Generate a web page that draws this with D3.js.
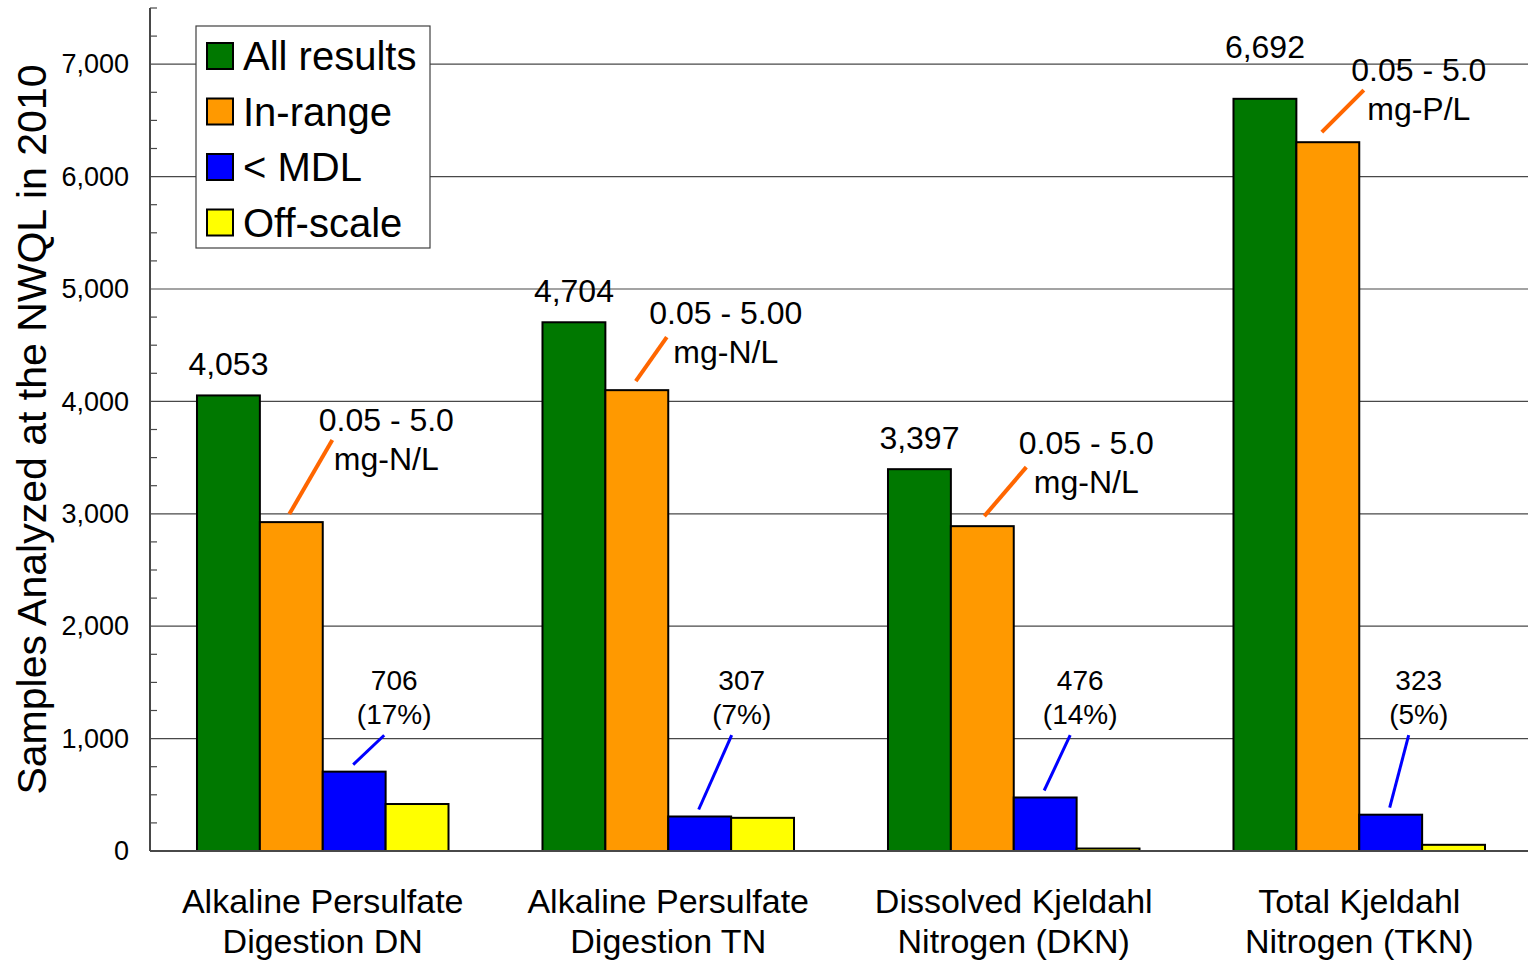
<!DOCTYPE html>
<html><head><meta charset="utf-8">
<script src="https://cdn.jsdelivr.net/npm/d3@7"></script>
<style>body{margin:0;background:#fff} svg{display:block;font-family:"Liberation Sans",Arial,Helvetica,sans-serif}</style>
</head><body><svg id="c" width="1528" height="960"></svg>
<script>
// ---- data ----
const categories = ["DN", "TN", "DKN", "TKN"];
const categoryLabels = [["Alkaline Persulfate","Digestion DN"],["Alkaline Persulfate","Digestion TN"],["Dissolved Kjeldahl","Nitrogen (DKN)"],["Total Kjeldahl","Nitrogen (TKN)"]];
const seriesNames = ["All results", "In-range", "< MDL", "Off-scale"];
const allResults = [4053, 4704, 3397, 6692];
const inRange = [2926, 4100, 2890, 6306];
const belowMDL = [706, 307, 476, 323];
const offScale = [418, 295, 22, 55];
const allLabels = ["4,053", "4,704", "3,397", "6,692"];
const mdlLabels = [["706","(17%)"],["307","(7%)"],["476","(14%)"],["323","(5%)"]];
const rangeLabels = [["0.05 - 5.0","mg-N/L"],["0.05 - 5.00","mg-N/L"],["0.05 - 5.0","mg-N/L"],["0.05 - 5.0","mg-P/L"]];
const yTicks = [0, 1000, 2000, 3000, 4000, 5000, 6000, 7000];
const yTickLabels = ["0", "1,000", "2,000", "3,000", "4,000", "5,000", "6,000", "7,000"];
const yTitle = "Samples Analyzed at the NWQL in 2010";

// ---- style / layout ----
const colors = ["#007800", "#FF9900", "#0000FF", "#FFFF00"];
const W = 1528, H = 960;
const mLeft = 150, mRight = 1532, mTop = 8, mBottom = 851;
// annotation offsets (layout only)
const allLabelDy = [-31, -31, -31, -52];
const rangeLead = [[-2,-8,41,-82],[-1,-9,30,-53],[2,-10,44,-59],[-6,-10,36,-52]];
const rangeText = [[95,-102],[89,-77],[104,-83],[91,-72]];
const mdlTextDx = [40, 42, 35, 28];

const svg = d3.select("#c");
const series = [allResults, inRange, belowMDL, offScale];

const y = d3.scaleLinear().domain([0, 7500]).range([mBottom, mTop]);
const x0 = d3.scaleBand().domain(categories).range([mLeft, mRight]).padding(0);
const step = x0.bandwidth();
const x1 = d3.scaleBand().domain(seriesNames).range([step * 0.136, step * 0.864]).padding(0);

// gridlines
svg.append("g").selectAll("line").data(yTicks.filter(d => d > 0)).join("line")
  .attr("x1", mLeft).attr("x2", W).attr("y1", d => y(d)).attr("y2", d => y(d))
  .attr("stroke", "#484848").attr("stroke-width", 1.2);

// minor ticks
const minor = d3.range(0, 7501, 250).filter(d => d % 1000 !== 0);
svg.append("g").selectAll("line").data(minor).join("line")
  .attr("x1", mLeft).attr("x2", mLeft + 7).attr("y1", d => y(d)).attr("y2", d => y(d))
  .attr("stroke", "#484848").attr("stroke-width", 1.2);

// y axis tick labels
const yAxis = d3.axisLeft(y).tickValues(yTicks).tickFormat((d, i) => yTickLabels[i]).tickSize(0).tickPadding(21);
const yg = svg.append("g").attr("transform", `translate(${mLeft},0)`).call(yAxis);
yg.select(".domain").remove();
yg.selectAll("text").attr("font-size", 27).attr("fill", "#000").attr("font-family", "Liberation Sans, Arial, sans-serif");

// axis line
svg.append("line").attr("x1", mLeft).attr("x2", mLeft).attr("y1", mTop).attr("y2", mBottom).attr("stroke", "#484848").attr("stroke-width", 2);

// bars
const groups = svg.append("g").selectAll("g").data(categories).join("g")
  .attr("transform", d => `translate(${x0(d)},0)`);
groups.selectAll("rect").data((c, ci) => seriesNames.map((s, si) => ({s, si, v: series[si][ci]}))).join("rect")
  .attr("x", d => x1(d.s)).attr("width", x1.bandwidth())
  .attr("y", d => y(d.v)).attr("height", d => mBottom - y(d.v))
  .attr("fill", d => colors[d.si]).attr("stroke", "#000").attr("stroke-width", 2);

svg.append("line").attr("x1", mLeft).attr("x2", W).attr("y1", mBottom).attr("y2", mBottom).attr("stroke", "#484848").attr("stroke-width", 2);

categories.forEach((c, i) => {
  const gx = x0(c) + x1(seriesNames[0]) + x1.bandwidth() / 2;
  svg.append("text").attr("x", gx).attr("y", y(allResults[i]) + allLabelDy[i])
    .attr("text-anchor", "middle").attr("dominant-baseline", "central").attr("font-size", 32).text(allLabels[i]);

  // in-range annotation
  const ox = x0(c) + x1(seriesNames[1]) + x1.bandwidth() / 2;
  const oy = y(inRange[i]);
  const L = rangeLead[i];
  svg.append("line").attr("x1", ox + L[0]).attr("y1", oy + L[1]).attr("x2", ox + L[2]).attr("y2", oy + L[3])
    .attr("stroke", "#FF6600").attr("stroke-width", 4);
  const T = rangeText[i];
  rangeLabels[i].forEach((t, k) => {
    svg.append("text").attr("x", ox + T[0]).attr("y", oy + T[1] + k * 39)
      .attr("text-anchor", "middle").attr("dominant-baseline", "central").attr("font-size", 32).text(t);
  });

  // < MDL annotation
  const bx = x0(c) + x1(seriesNames[2]) + x1.bandwidth() / 2;
  const by = y(belowMDL[i]);
  const tx = bx + mdlTextDx[i];
  svg.append("line").attr("x1", bx - 1).attr("y1", by - 7).attr("x2", tx - 10).attr("y2", y(1030))
    .attr("stroke", "#0000FF").attr("stroke-width", 3);
  mdlLabels[i].forEach((t, k) => {
    svg.append("text").attr("x", tx).attr("y", y(1520) + k * 34)
      .attr("text-anchor", "middle").attr("dominant-baseline", "central").attr("font-size", 28).text(t);
  });

  // category labels
  const cx = x0(c) + step / 2;
  categoryLabels[i].forEach((t, k) => {
    svg.append("text").attr("x", cx).attr("y", 901 + k * 40)
      .attr("text-anchor", "middle").attr("dominant-baseline", "central").attr("font-size", 34).text(t);
  });
});

// y title
svg.append("text").attr("transform", `translate(32,${(64 + 795) / 2}) rotate(-90)`)
  .attr("text-anchor", "middle").attr("dominant-baseline", "central").attr("font-size", 41).text(yTitle);

// legend
const lg = svg.append("g").attr("transform", "translate(196,26)");
lg.append("rect").attr("width", 234).attr("height", 222).attr("fill", "#fff").attr("stroke", "#404040").attr("stroke-width", 1.2);
seriesNames.forEach((s, i) => {
  const cy = 30 + i * 55.5;
  lg.append("rect").attr("x", 11).attr("y", cy - 13).attr("width", 26).attr("height", 26)
    .attr("fill", colors[i]).attr("stroke", "#000").attr("stroke-width", 2);
  lg.append("text").attr("x", 47).attr("y", cy).attr("dominant-baseline", "central").attr("font-size", 40).text(s);
});
</script></body></html>
